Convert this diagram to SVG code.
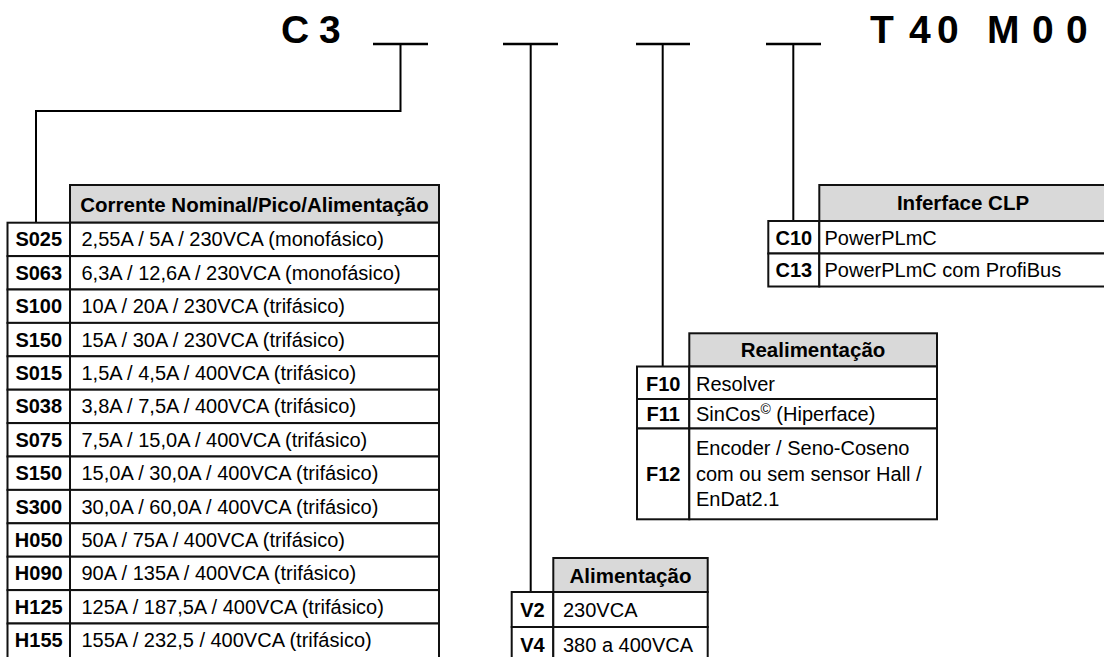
<svg xmlns="http://www.w3.org/2000/svg" width="1104" height="657" viewBox="0 0 1104 657">
<style>
.cell{fill:#ffffff;stroke:#111111;stroke-width:2}
.hdr{fill:#d9d9d9;stroke:#111111;stroke-width:2}
.code{font-family:"Liberation Sans",Arial,sans-serif;font-weight:bold;font-size:20px;text-anchor:middle;fill:#000}
.desc{font-family:"Liberation Sans",Arial,sans-serif;font-size:20px;fill:#000}
.htxt{font-family:"Liberation Sans",Arial,sans-serif;font-weight:bold;font-size:20.5px;text-anchor:middle;fill:#000}
.title{font-family:"Liberation Sans",Arial,sans-serif;font-weight:bold;font-size:39px;fill:#000}
.conn{fill:none;stroke:#000;stroke-width:2}
.ul{fill:none;stroke:#000;stroke-width:2.5}
</style>
<rect width="1104" height="657" fill="#ffffff"/>
<g id="title">
<text class="title" x="281 309 319" y="43">C 3</text>
<text class="title" x="870 909 937 960 987 1032 1066" y="43">T40 M00</text>
</g>
<g id="connectors">
<line class="ul" x1="373" y1="44" x2="428" y2="44"/>
<line class="ul" x1="503" y1="44" x2="558" y2="44"/>
<line class="ul" x1="636" y1="44" x2="690" y2="44"/>
<line class="ul" x1="766" y1="44" x2="821" y2="44"/>
<path class="conn" d="M400.5,44 V111 H36 V222.7"/>
<path class="conn" d="M530.7,44 V592"/>
<path class="conn" d="M662.7,44 V366.5"/>
<path class="conn" d="M793.3,44 V221"/>
</g>
<g id="table-corrente">
<rect class="hdr" x="70" y="185" width="369" height="37.7"/>
<text class="htxt" x="254.5" y="211.5">Corrente Nominal/Pico/Alimentação</text>
<rect class="cell" x="7.5" y="222.7" width="62.5" height="33.4"/><rect class="cell" x="70" y="222.7" width="369" height="33.4"/>
<text class="code" x="38.75" y="246.4">S025</text><text class="desc" x="81.5" y="246.4">2,55A / 5A / 230VCA (monofásico)</text>
<rect class="cell" x="7.5" y="256.1" width="62.5" height="33.4"/><rect class="cell" x="70" y="256.1" width="369" height="33.4"/>
<text class="code" x="38.75" y="279.8">S063</text><text class="desc" x="81.5" y="279.8">6,3A / 12,6A / 230VCA (monofásico)</text>
<rect class="cell" x="7.5" y="289.5" width="62.5" height="33.4"/><rect class="cell" x="70" y="289.5" width="369" height="33.4"/>
<text class="code" x="38.75" y="313.2">S100</text><text class="desc" x="81.5" y="313.2">10A / 20A / 230VCA (trifásico)</text>
<rect class="cell" x="7.5" y="322.9" width="62.5" height="33.4"/><rect class="cell" x="70" y="322.9" width="369" height="33.4"/>
<text class="code" x="38.75" y="346.6">S150</text><text class="desc" x="81.5" y="346.6">15A / 30A / 230VCA (trifásico)</text>
<rect class="cell" x="7.5" y="356.3" width="62.5" height="33.4"/><rect class="cell" x="70" y="356.3" width="369" height="33.4"/>
<text class="code" x="38.75" y="380">S015</text><text class="desc" x="81.5" y="380">1,5A / 4,5A / 400VCA (trifásico)</text>
<rect class="cell" x="7.5" y="389.7" width="62.5" height="33.4"/><rect class="cell" x="70" y="389.7" width="369" height="33.4"/>
<text class="code" x="38.75" y="413.4">S038</text><text class="desc" x="81.5" y="413.4">3,8A / 7,5A / 400VCA (trifásico)</text>
<rect class="cell" x="7.5" y="423.1" width="62.5" height="33.4"/><rect class="cell" x="70" y="423.1" width="369" height="33.4"/>
<text class="code" x="38.75" y="446.8">S075</text><text class="desc" x="81.5" y="446.8">7,5A / 15,0A / 400VCA (trifásico)</text>
<rect class="cell" x="7.5" y="456.5" width="62.5" height="33.4"/><rect class="cell" x="70" y="456.5" width="369" height="33.4"/>
<text class="code" x="38.75" y="480.2">S150</text><text class="desc" x="81.5" y="480.2">15,0A / 30,0A / 400VCA (trifásico)</text>
<rect class="cell" x="7.5" y="489.9" width="62.5" height="33.4"/><rect class="cell" x="70" y="489.9" width="369" height="33.4"/>
<text class="code" x="38.75" y="513.6">S300</text><text class="desc" x="81.5" y="513.6">30,0A / 60,0A / 400VCA (trifásico)</text>
<rect class="cell" x="7.5" y="523.3" width="62.5" height="33.4"/><rect class="cell" x="70" y="523.3" width="369" height="33.4"/>
<text class="code" x="38.75" y="547">H050</text><text class="desc" x="81.5" y="547">50A / 75A / 400VCA (trifásico)</text>
<rect class="cell" x="7.5" y="556.7" width="62.5" height="33.4"/><rect class="cell" x="70" y="556.7" width="369" height="33.4"/>
<text class="code" x="38.75" y="580.4">H090</text><text class="desc" x="81.5" y="580.4">90A / 135A / 400VCA (trifásico)</text>
<rect class="cell" x="7.5" y="590.1" width="62.5" height="33.4"/><rect class="cell" x="70" y="590.1" width="369" height="33.4"/>
<text class="code" x="38.75" y="613.8">H125</text><text class="desc" x="81.5" y="613.8">125A / 187,5A / 400VCA (trifásico)</text>
<rect class="cell" x="7.5" y="623.5" width="62.5" height="40"/><rect class="cell" x="70" y="623.5" width="369" height="40"/>
<text class="code" x="38.75" y="647.2">H155</text><text class="desc" x="81.5" y="647.2">155A / 232,5 / 400VCA (trifásico)</text>
</g>
<g id="table-alimentacao">
<rect class="hdr" x="553.3" y="558" width="154.4" height="34"/>
<text class="htxt" x="630.5" y="583">Alimentação</text>
<rect class="cell" x="511.7" y="592" width="41.6" height="35"/><rect class="cell" x="553.3" y="592" width="154.4" height="35"/>
<text class="code" x="532.5" y="616.5">V2</text><text class="desc" x="563" y="616.5">230VCA</text>
<rect class="cell" x="511.7" y="627" width="41.6" height="40"/><rect class="cell" x="553.3" y="627" width="154.4" height="40"/>
<text class="code" x="532.5" y="651.5">V4</text><text class="desc" x="563" y="651.5">380 a 400VCA</text>
</g>
<g id="table-realimentacao">
<rect class="hdr" x="689.3" y="333.3" width="247.7" height="33.2"/>
<text class="htxt" x="813" y="357">Realimentação</text>
<rect class="cell" x="637" y="366.5" width="52.3" height="32.5"/><rect class="cell" x="689.3" y="366.5" width="247.7" height="32.5"/>
<text class="code" x="663.2" y="390.5">F10</text><text class="desc" x="696" y="390.5">Resolver</text>
<rect class="cell" x="637" y="399" width="52.3" height="29.5"/><rect class="cell" x="689.3" y="399" width="247.7" height="29.5"/>
<text class="code" x="663.2" y="420.5">F11</text><text class="desc" x="696" y="420.5">SinCos<tspan font-size="14" dy="-7">©</tspan><tspan dy="7"> (Hiperface)</tspan></text>
<rect class="cell" x="637" y="428.5" width="52.3" height="90.8"/><rect class="cell" x="689.3" y="428.5" width="247.7" height="90.8"/>
<text class="code" x="663.2" y="481">F12</text>
<text class="desc" x="696" y="455">Encoder / Seno-Coseno</text>
<text class="desc" x="696" y="480.5">com ou sem sensor Hall /</text>
<text class="desc" x="696" y="506">EnDat2.1</text>
</g>
<g id="table-interface">
<rect class="hdr" x="819.3" y="185" width="290" height="36"/>
<text class="htxt" x="963" y="210">Inferface CLP</text>
<rect class="cell" x="768.3" y="221" width="51" height="32.5"/><rect class="cell" x="819.3" y="221" width="290" height="32.5"/>
<text class="code" x="793.8" y="244.5">C10</text><text class="desc" x="824.5" y="244.5">PowerPLmC</text>
<rect class="cell" x="768.3" y="253.5" width="51" height="33"/><rect class="cell" x="819.3" y="253.5" width="290" height="33"/>
<text class="code" x="793.8" y="277">C13</text><text class="desc" x="824.5" y="277">PowerPLmC com ProfiBus</text>
</g>
</svg>
